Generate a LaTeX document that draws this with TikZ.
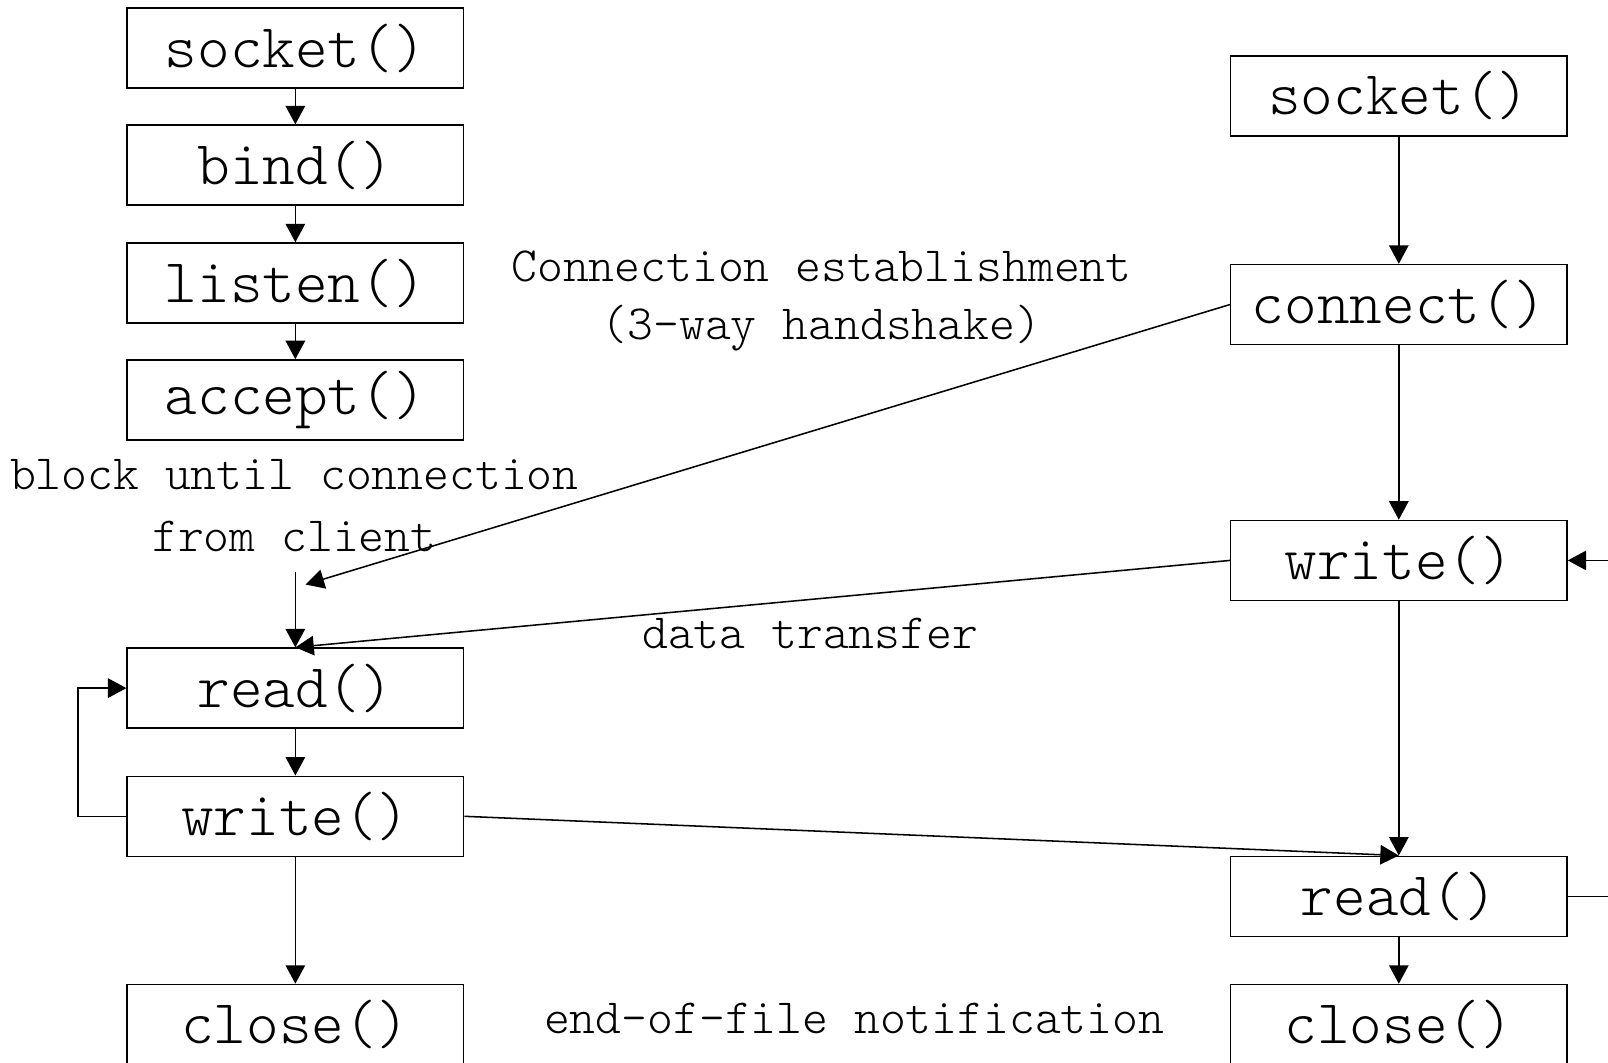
\documentclass[tikz,border=0pt]{standalone}
\usepackage{fontspec}
\setmonofont{Latin Modern Mono Light}
\usetikzlibrary{arrows.meta}

\tikzset{
  callbox/.style={draw, line width=0.75pt, rectangle, minimum width=164pt,
    minimum height=39pt, inner sep=0pt, font=\ttfamily\fontsize{30.3}{34}\selectfont},
  note/.style={inner sep=0pt, font=\ttfamily\fontsize{24.0}{28}\selectfont},
  flow/.style={line width=0.75pt, -{Triangle[length=9pt,width=9.5pt]}},
  plain/.style={line width=0.75pt}
}

\begin{document}
\begin{tikzpicture}[x=0.5pt,y=-0.5pt]
  \clip (0,0) rectangle (1568,1036);
  \fill[white] (0,0) rectangle (1568,1036);

  % server side
  \node[callbox] (ssocket) at (288,47)  {socket()};
  \node[callbox] (sbind)   at (288,161) {bind()};
  \node[callbox] (slisten) at (288,276) {listen()};
  \node[callbox] (saccept) at (288,390) {accept()};
  \node[callbox] (sread)   at (288,671) {read()};
  \node[callbox] (swrite)  at (288,796) {write()};
  \node[callbox] (sclose)  at (288,999) {close()};

  % client side
  \node[callbox] (csocket)  at (1364,93.5) {socket()};
  \node[callbox] (cconnect) at (1364,297)  {connect()};
  \node[callbox] (cwrite)   at (1364,546.5) {write()};
  \node[callbox] (cread)    at (1364,874)  {read()};
  \node[callbox] (cclose)   at (1364,999)  {close()};

  % annotations
  \node[note] (block)  at (287,463) {block until connection};
  \node[note] (fromc)  at (287,523) {from client};
  \node[note] (estab)  at (801,260) {Connection establishment};
  \node[note] (hshake) at (801,320) {(3-way handshake)};
  \node[note] (xfer)   at (790,618) {data transfer};
  \node[note] (eof)    at (833,993) {end-of-file notification};

  \coordinate (wait) at (288,558);
  \coordinate (synend) at (298,570);

  % server flow
  \draw[flow] (ssocket) -- (sbind);
  \draw[flow] (sbind) -- (slisten);
  \draw[flow] (slisten) -- (saccept);
  \draw[flow] (wait) -- (sread.north);
  \draw[flow] (sread) -- (swrite);
  \draw[flow] (swrite.west) -- ++(-47,0) |- (sread.west);
  \draw[flow] (swrite) -- (sclose);

  % client flow
  \draw[flow] (csocket) -- (cconnect);
  \draw[flow] (cconnect) -- (cwrite);
  \draw[flow] (cwrite) -- (cread);
  \draw[flow] (cread) -- (cclose);
  \draw[flow] (cread.east) -- ++(70,0) |- (cwrite.east);

  % exchanges between the two sides
  \draw[flow] (cconnect.west) -- (synend);
  \draw[flow] (cwrite.west) -- (sread.north);
  \draw[flow] (swrite.east) -- (cread.north);
\end{tikzpicture}
\end{document}
